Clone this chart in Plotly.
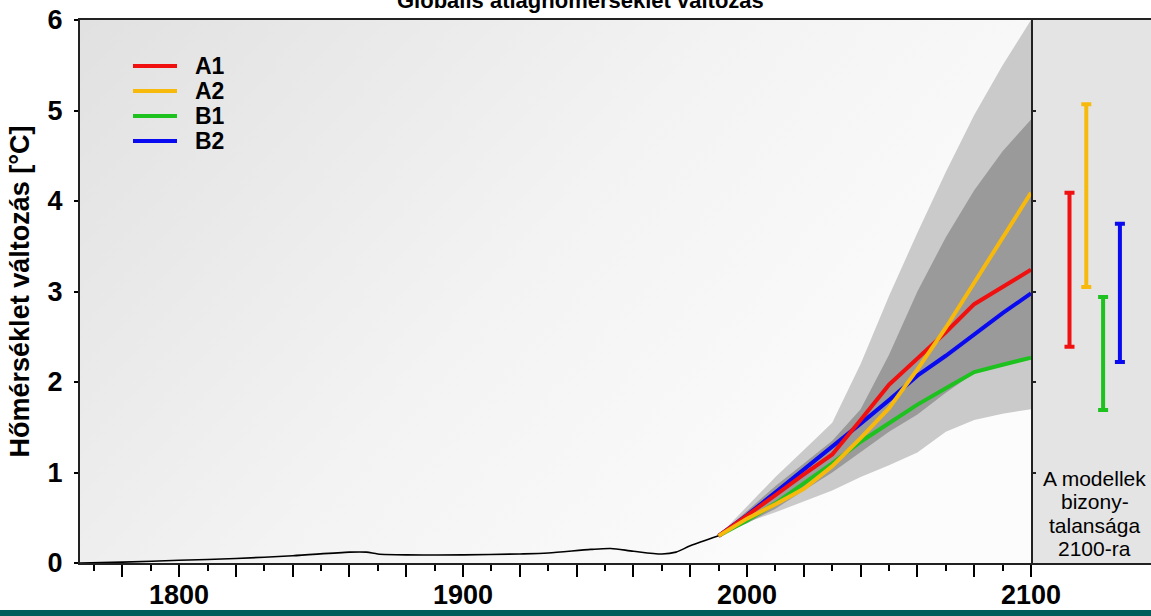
import base64
import plotly.graph_objects as go

# ---- data -------------------------------------------------------------
# observed global mean temperature change (°C)
hist_years = [1765, 1780, 1800, 1820, 1840, 1860, 1866, 1870, 1880, 1900,
              1920, 1930, 1945, 1952, 1960, 1970, 1975, 1980, 1990]
hist_temp = [0.00, 0.01, 0.03, 0.05, 0.08, 0.12, 0.12, 0.10, 0.09, 0.09,
             0.10, 0.11, 0.15, 0.16, 0.13, 0.10, 0.12, 0.19, 0.30]

# projections per scenario
proj_years = [1990, 2000, 2010, 2020, 2030, 2040, 2050, 2060, 2070, 2080, 2090, 2100]
a1 = [0.30, 0.52, 0.75, 0.98, 1.20, 1.58, 1.97, 2.26, 2.55, 2.86, 3.05, 3.24]
a2 = [0.30, 0.49, 0.65, 0.82, 1.07, 1.38, 1.71, 2.14, 2.60, 3.10, 3.60, 4.09]
b1 = [0.30, 0.47, 0.66, 0.88, 1.10, 1.34, 1.55, 1.75, 1.93, 2.11, 2.19, 2.27]
b2 = [0.30, 0.53, 0.78, 1.03, 1.28, 1.54, 1.80, 2.07, 2.29, 2.53, 2.76, 2.98]

# envelope of all models (outer) and of the scenario ensemble (inner)
outer_hi = [0.30, 0.62, 0.95, 1.25, 1.55, 2.20, 2.95, 3.65, 4.32, 4.95, 5.50, 6.00]
outer_lo = [0.30, 0.45, 0.56, 0.68, 0.80, 0.95, 1.08, 1.22, 1.45, 1.58, 1.65, 1.70]
inner_hi = [0.30, 0.58, 0.85, 1.10, 1.35, 1.70, 2.30, 3.00, 3.60, 4.12, 4.55, 4.90]
inner_lo = [0.30, 0.44, 0.60, 0.80, 1.00, 1.22, 1.45, 1.64, 1.88, 2.10, 2.20, 2.28]

# model uncertainty for 2100
scenario_names = ["A1", "A2", "B1", "B2"]
range_lo = [2.39, 3.05, 1.69, 2.22]
range_hi = [4.09, 5.07, 2.94, 3.75]

x_labels = [1800, 1900, 2000, 2100]
y_ticks = [0, 1, 2, 3, 4, 5, 6]

# ---- styling ------------------------------------------------------------
SANS = "Liberation Sans, Arial, Helvetica, sans-serif"
colors = {"A1": "#f01010", "A2": "#f6b90c", "B1": "#1ec21e", "B2": "#0a0af0"}
series = {"A1": a1, "A2": a2, "B1": b1, "B2": b2}

# figure geometry in pixels
W, H = 1151, 616
ML, MT, MB = 80, 20, 53
PW, PH = W - ML, H - MT - MB


def px_x(x):
    return (x - ML) / PW


def px_y(y):
    return (H - MB - y) / PH


fig = go.Figure()

# uncertainty envelopes
fig.add_trace(go.Scatter(
    x=proj_years + proj_years[::-1], y=outer_hi + outer_lo[::-1],
    fill="toself", fillcolor="#cacaca", line=dict(width=0),
    mode="lines", hoverinfo="skip", showlegend=False))
fig.add_trace(go.Scatter(
    x=proj_years + proj_years[::-1], y=inner_hi + inner_lo[::-1],
    fill="toself", fillcolor="#9a9a9a", line=dict(width=0),
    mode="lines", hoverinfo="skip", showlegend=False))

# observed record
fig.add_trace(go.Scatter(
    x=hist_years, y=hist_temp, mode="lines",
    line=dict(color="black", width=1.6, shape="spline", smoothing=0.8),
    showlegend=False, hoverinfo="skip"))

# scenario curves (B1 and B2 below A1/A2)
for name in ["B1", "B2", "A1", "A2"]:
    fig.add_trace(go.Scatter(
        x=proj_years, y=series[name], mode="lines", name=name,
        line=dict(color=colors[name], width=4), showlegend=False))

# 2100 uncertainty bars in the side panel
for i, name in enumerate(scenario_names):
    mid = (range_lo[i] + range_hi[i]) / 2
    half = (range_hi[i] - range_lo[i]) / 2
    fig.add_trace(go.Scatter(
        x=[i], y=[mid], xaxis="x2", yaxis="y2", mode="markers",
        marker=dict(size=1, color="rgba(0,0,0,0)"),
        error_y=dict(type="data", array=[half], color=colors[name],
                     thickness=4, width=5),
        showlegend=False, hoverinfo="skip"))

# background gradient for the main panel
svg = ('<svg xmlns="http://www.w3.org/2000/svg" width="200" height="100" '
       'viewBox="0 0 200 100" preserveAspectRatio="none"><defs>'
       '<linearGradient id="g" x1="0" y1="0" x2="1" y2="0.5">'
       '<stop offset="0" stop-color="#e1e1e1"/>'
       '<stop offset="0.55" stop-color="#f3f3f3"/>'
       '<stop offset="1" stop-color="#fcfcfc"/></linearGradient></defs>'
       '<rect width="200" height="100" fill="url(#g)"/></svg>')
bg_uri = "data:image/svg+xml;base64," + base64.b64encode(svg.encode()).decode()

split = px_x(1031)          # right end of the time axis
x_start = 2100 - 334.9

shapes = [
    dict(type="rect", xref="x2 domain", yref="y2 domain",
         x0=0, x1=1, y0=0, y1=1, fillcolor="#e4e4e4",
         line=dict(width=0), layer="below"),
    dict(type="rect", xref="paper", yref="paper",
         x0=px_x(-5), x1=px_x(W + 5), y0=px_y(610), y1=px_y(H + 5),
         fillcolor="#005f5a", line=dict(width=0), layer="above"),
]

# legend: coloured line samples with bold labels
for k, name in enumerate(scenario_names):
    yk = 66 + 25 * k
    shapes.append(dict(type="line", xref="paper", yref="paper",
                       x0=px_x(133), x1=px_x(177), y0=px_y(yk), y1=px_y(yk),
                       line=dict(color=colors[name], width=4)))

fig.update_layout(
    width=W, height=H,
    margin=dict(l=ML, r=0, t=MT, b=MB, autoexpand=False),
    paper_bgcolor="white", plot_bgcolor="rgba(0,0,0,0)",
    images=[dict(source=bg_uri, xref="x domain", yref="y domain",
                 x=0, y=1, sizex=1, sizey=1, xanchor="left", yanchor="top",
                 sizing="stretch", layer="below")],
    shapes=shapes,
    showlegend=False,
    xaxis=dict(
        domain=[0, split], range=[x_start, 2100], automargin=False,
        tickmode="array",
        tickvals=list(range(1780, 2101, 20)),
        ticktext=[str(v) if v in x_labels else "" for v in range(1780, 2101, 20)],
        ticks="outside", ticklen=12, tickwidth=1.5, tickcolor="black",
        minor=dict(dtick=10, tick0=1760, ticks="outside", ticklen=6,
                   tickwidth=1.5, tickcolor="black", showgrid=False),
        tickfont=dict(family=SANS, size=27, color="black", weight="bold"),
        ticklabelstandoff=-5,
        showline=True, linecolor="#222", linewidth=2, mirror=True,
        showgrid=False, zeroline=False, anchor="y"),
    yaxis=dict(
        domain=[0, 1], range=[0, 6], tickvals=y_ticks, automargin=False,
        ticks="outside", ticklen=4, tickwidth=1.5, tickcolor="black",
        tickfont=dict(family=SANS, size=27, color="black", weight="bold"),
        ticklabelstandoff=6,
        showline=True, linecolor="#222", linewidth=2, mirror=True,
        showgrid=False, zeroline=False, anchor="x",
        title=dict(text="Hőmérséklet változás [°C]", standoff=10,
                   font=dict(family=SANS, size=27, color="black", weight="bold"))),
    xaxis2=dict(
        domain=[split, 1], range=[-2.29, 4.85], anchor="y2", automargin=False,
        showline=True, linecolor="#222", linewidth=2, mirror=True,
        showticklabels=False, ticks="", showgrid=False, zeroline=False),
    yaxis2=dict(
        domain=[0, 1], range=[0, 6], anchor="x2", tickvals=y_ticks[1:-1],
        automargin=False,
        ticks="inside", ticklen=5, tickwidth=1.5, tickcolor="#222",
        showticklabels=False, showline=False, showgrid=False, zeroline=False),
)

for k, name in enumerate(scenario_names):
    fig.add_annotation(
        text=name, xref="paper", yref="paper",
        x=px_x(193), y=px_y(66 + 25 * k), xanchor="left", yanchor="middle",
        showarrow=False,
        font=dict(family=SANS, size=23, color="black", weight="bold"))

fig.add_annotation(
    text="Globális átlaghőmérséklet változás", xref="paper", yref="paper",
    x=px_x(580), y=1, xanchor="center", yanchor="bottom", yshift=5,
    showarrow=False,
    font=dict(family=SANS, size=22, color="black", weight="bold"))

side_lines = ["A modellek", "bizony-", "talansága", "2100-ra"]
for k, line in enumerate(side_lines):
    fig.add_annotation(
        text=line, xref="x2 domain", yref="paper",
        x=0.533, y=px_y(478 + 23.5 * k),
        xanchor="center", yanchor="middle", showarrow=False,
        font=dict(family=SANS, size=21, color="black"))

fig.write_html("out.html")
